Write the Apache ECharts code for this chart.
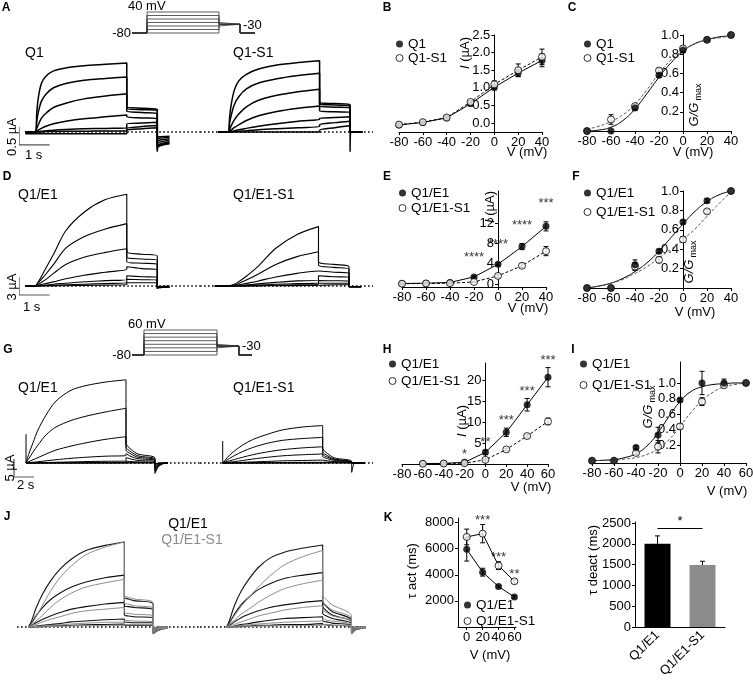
<!DOCTYPE html>
<html>
<head>
<meta charset="utf-8">
<script src="https://cdn.jsdelivr.net/npm/echarts@6.0.0/dist/echarts.min.js"></script>
<style>
  html, body { margin: 0; padding: 0; background: #fff; }
  #fig { width: 753px; height: 681px; }
</style>
</head>
<body>
<div id="fig"></div>
<script>
// ---------- values ----------
// voltage protocols (mV)
const holdV = -80;
const tailV = -30;
const protoALevels = [-80, -60, -40, -20, 0, 20, 40];
const protoGLevels = [-80, -60, -40, -20, 0, 20, 40, 60];
const protoATimes = [0.625, 3, 0.875, 0.625];   // hold, step, tail, end (s)
const protoGTimes = [1.64, 10, 3, 1.78];

// current traces, short protocol (A, D): time points in s
const stepT3 = [0, 0.05, 0.1, 0.2, 0.35, 0.6, 1.0, 1.6, 2.3, 3.0];
const tailT3 = [0, 0.5, 1.0];
const postT3 = [0, 0.02, 0.4];

// A  Q1  (µA), rows = +40 ... -80 mV
const aQ1Step = [
  [0, 0.55, 0.95, 1.35, 1.55, 1.7, 1.78, 1.84, 1.88, 1.92],
  [0, 0.3, 0.55, 0.85, 1.05, 1.23, 1.35, 1.44, 1.49, 1.53],
  [0, 0.1, 0.2, 0.38, 0.52, 0.68, 0.8, 0.92, 1.0, 1.06],
  [0, 0.02, 0.05, 0.1, 0.16, 0.23, 0.3, 0.37, 0.42, 0.47],
  [0, 0, 0.01, 0.02, 0.03, 0.05, 0.07, 0.09, 0.1, 0.11],
  [0, 0, 0, 0, 0.01, 0.01, 0.02, 0.02, 0.03, 0.03],
  [-0.05, -0.05, -0.05, -0.05, -0.05, -0.05, -0.05, -0.05, -0.05, -0.05]
];
const aQ1Tail = [[0.7, 0.66, 0.63], [0.66, 0.62, 0.6], [0.58, 0.54, 0.5], [0.42, 0.39, 0.37],
  [0.22, 0.25, 0.27], [0.1, 0.15, 0.18], [0.04, 0.09, 0.12]];
const aQ1Post = [[-0.55, -0.42, -0.33], [-0.5, -0.4, -0.3], [-0.45, -0.36, -0.27], [-0.38, -0.3, -0.23],
  [-0.3, -0.24, -0.19], [-0.22, -0.18, -0.15], [-0.17, -0.14, -0.12]];
// A  Q1-S1
const aS1Step = [
  [0, 0.4, 0.75, 1.15, 1.42, 1.6, 1.75, 1.86, 1.93, 1.98],
  [0, 0.25, 0.45, 0.75, 0.98, 1.2, 1.36, 1.48, 1.57, 1.63],
  [0, 0.08, 0.17, 0.33, 0.5, 0.7, 0.88, 1.02, 1.12, 1.19],
  [0, 0.02, 0.05, 0.12, 0.2, 0.32, 0.45, 0.57, 0.66, 0.72],
  [0, 0, 0.01, 0.03, 0.06, 0.1, 0.16, 0.23, 0.3, 0.35],
  [0, 0, 0, 0.01, 0.02, 0.03, 0.06, 0.09, 0.12, 0.15],
  [0, 0, 0, 0, 0, 0, 0, 0, 0, 0]
];
const aS1Tail = [[0.82, 0.79, 0.76], [0.78, 0.75, 0.72], [0.72, 0.69, 0.67], [0.58, 0.56, 0.55],
  [0.38, 0.4, 0.42], [0.2, 0.26, 0.3], [0.05, 0.12, 0.17]];
const aS1Post = [[-0.55, 0, 0], [0, 0, 0], [0, 0, 0], [0, 0, 0], [0, 0, 0], [0, 0, 0], [0, 0, 0]];

// D  Q1/E1 (µA)
const dQ1Step = [
  [0, 0.3, 0.7, 1.6, 3.0, 5.3, 9.2, 12.3, 14.4, 15.3],
  [0, 0.2, 0.5, 1.1, 2.0, 3.6, 6.3, 8.2, 9.5, 10.4],
  [0, 0.1, 0.25, 0.6, 1.1, 2.1, 3.6, 4.8, 5.6, 6.2],
  [0, 0.05, 0.1, 0.25, 0.4, 0.7, 1.2, 1.8, 2.3, 2.8],
  [0, 0, 0.05, 0.1, 0.15, 0.3, 0.45, 0.7, 0.9, 1.1],
  [0, 0, 0, 0.05, 0.08, 0.12, 0.2, 0.3, 0.42, 0.55],
  [0, 0, 0, 0, 0, 0.02, 0.05, 0.1, 0.15, 0.2]
];
const dQ1Tail = [[5.7, 5.3, 5.0], [4.8, 4.5, 4.3], [4.0, 3.8, 3.6], [3.2, 2.9, 2.7],
  [1.7, 1.55, 1.45], [1.1, 1.05, 1.0], [0.55, 0.55, 0.55]];
const dQ1Post = [[-0.5, -0.3, -0.2], [-0.45, -0.3, -0.2], [-0.4, -0.25, -0.15], [-0.3, -0.2, -0.1],
  [-0.2, -0.15, -0.1], [-0.15, -0.1, -0.05], [-0.1, -0.05, 0]];
// D  Q1/E1-S1
const dS1Step = [
  [0, 0, 0.05, 0.2, 0.6, 1.5, 3.2, 6.3, 8.6, 9.9],
  [0, 0, 0.03, 0.12, 0.35, 0.9, 1.9, 3.6, 4.9, 5.7],
  [0, 0, 0.01, 0.05, 0.15, 0.4, 0.8, 1.5, 2.1, 2.5],
  [0, 0, 0, 0.02, 0.06, 0.15, 0.35, 0.6, 0.85, 1.0],
  [0, 0, 0, 0, 0.02, 0.06, 0.15, 0.28, 0.4, 0.5],
  [0, 0, 0, 0, 0, 0.02, 0.06, 0.12, 0.2, 0.25],
  [0, 0, 0, 0, 0, 0, 0.02, 0.04, 0.07, 0.1]
];
const dS1Tail = [[4.05, 3.6, 3.2], [3.5, 3.1, 2.8], [2.5, 2.3, 2.1], [1.7, 1.55, 1.45],
  [0.9, 0.87, 0.85], [0.45, 0.45, 0.45], [0.2, 0.2, 0.2]];
const dS1Post = [[-0.2, -0.1, -0.1], [-0.1, -0.1, -0.1], [-0.1, -0.1, -0.1], [-0.1, -0.1, -0.1],
  [-0.1, -0.1, -0.1], [-0.1, -0.1, -0.1], [-0.1, -0.1, -0.1]];

// G  long protocol (µA), rows = +60 ... -80 mV
const gStepT = [0, 0.3, 0.7, 1.2, 2, 3, 4.5, 6, 8, 10];
const gTailT = [0, 0.5, 1.2, 2.9];
const gPostT = [0, 0.3, 0.7, 1.3];
const gSpike = [8, 6.1];
const gQ1Step = [
  [0, 2.7, 5.6, 9.2, 13.3, 17.2, 20.2, 21.5, 22.5, 23.1],
  [0, 1.3, 3.0, 5.0, 7.8, 10.0, 11.8, 13.0, 14.2, 15.2],
  [0, 0.4, 0.9, 1.5, 2.5, 3.6, 4.7, 5.6, 6.6, 7.3],
  [0, 0.1, 0.2, 0.35, 0.6, 0.9, 1.3, 1.6, 1.9, 2.1],
  [0, 0, 0.05, 0.08, 0.12, 0.2, 0.3, 0.4, 0.48, 0.55],
  [0, 0, 0, 0.02, 0.04, 0.06, 0.08, 0.1, 0.12, 0.15],
  [0, 0, 0, 0, 0, 0, 0, 0, 0.02, 0.05],
  [0, 0, 0, 0, 0, 0, 0, 0, 0, 0]
];
const gQ1Tail = [[5.5, 3.8, 2.5, 1.3], [4.5, 3.1, 2.0, 1.0], [3.6, 2.5, 1.6, 0.8], [2.6, 1.8, 1.2, 0.6],
  [1.5, 1.1, 0.7, 0.4], [0.5, 0.4, 0.3, 0.2], [0.1, 0.1, 0.1, 0.1], [0, 0, 0, 0]];
const gQ1Post = [[-2.9, -1.2, -0.3, 0], [-2.4, -1.0, -0.25, 0], [-1.9, -0.8, -0.2, 0], [-1.4, -0.6, -0.15, 0],
  [-0.9, -0.4, -0.1, 0], [-0.5, -0.2, -0.05, 0], [-0.3, -0.1, 0, 0], [-0.2, -0.1, 0, 0]];
const gS1Step = [
  [0, 1.0, 2.2, 3.4, 5.0, 6.5, 8.0, 9.2, 10.0, 10.4],
  [0, 0.6, 1.3, 2.1, 3.2, 4.3, 5.5, 6.3, 6.8, 7.1],
  [0, 0.3, 0.6, 1.0, 1.6, 2.3, 3.1, 3.7, 4.2, 4.5],
  [0, 0.1, 0.25, 0.4, 0.7, 1.1, 1.6, 2.0, 2.3, 2.5],
  [0, 0, 0.05, 0.1, 0.2, 0.3, 0.45, 0.6, 0.7, 0.8],
  [0, 0, 0, 0, 0.03, 0.06, 0.1, 0.14, 0.18, 0.2],
  [0, 0, 0, 0, 0, 0, 0, 0, 0.02, 0.05],
  [0, 0, 0, 0, 0, 0, 0, 0, 0, 0]
];
const gS1Tail = [[4.1, 2.6, 1.4, 0.4], [3.2, 2.0, 1.1, 0.35], [2.5, 1.6, 0.9, 0.3], [1.8, 1.2, 0.7, 0.25],
  [0.8, 0.6, 0.4, 0.2], [0.3, 0.25, 0.2, 0.1], [0.1, 0.1, 0.1, 0.05], [0, 0, 0, 0]];
const gS1Post = [[-2.6, 0, 0, 0], [0, 0, 0, 0], [0, 0, 0, 0], [0, 0, 0, 0],
  [0, 0, 0, 0], [0, 0, 0, 0], [0, 0, 0, 0], [0, 0, 0, 0]];

// J  normalised overlays (black Q1/E1, grey Q1/E1-S1)
const jStepT = [0, 0.3, 0.8, 1.5, 2.3, 3.3, 4.5, 6, 8, 10];
const jTailT = [0, 0.4, 1.0, 3.0];
const jPostT = [0, 0.5, 1.5];
const jLeftBlackStep = [
  [0, 0.06, 0.22, 0.39, 0.54, 0.68, 0.8, 0.9, 0.96, 1.0],
  [0, 0.04, 0.13, 0.23, 0.32, 0.4, 0.47, 0.53, 0.58, 0.61],
  [0, 0.02, 0.05, 0.09, 0.13, 0.17, 0.21, 0.24, 0.27, 0.29],
  [0, 0, 0.01, 0.02, 0.03, 0.04, 0.06, 0.07, 0.085, 0.094],
  [0, 0, 0, 0.005, 0.01, 0.015, 0.02, 0.025, 0.03, 0.035]
];
const jLeftGreyStep = [
  [0, 0.03, 0.12, 0.26, 0.42, 0.58, 0.72, 0.85, 0.94, 1.0],
  [0, 0.02, 0.07, 0.14, 0.23, 0.32, 0.4, 0.47, 0.52, 0.56],
  [0, 0.01, 0.03, 0.06, 0.09, 0.12, 0.16, 0.19, 0.21, 0.23],
  [0, 0, 0.005, 0.01, 0.02, 0.025, 0.035, 0.045, 0.055, 0.06],
  [0, 0, 0, 0, 0.005, 0.01, 0.012, 0.015, 0.018, 0.02]
];
const jLeftBlackTail = [[0.35, 0.33, 0.31, 0.27], [0.25, 0.24, 0.23, 0.2], [0.14, 0.13, 0.12, 0.11],
  [0.06, 0.055, 0.05, 0.05], [0.02, 0.02, 0.02, 0.02]];
const jLeftGreyTail = [[0.37, 0.35, 0.33, 0.28], [0.28, 0.27, 0.25, 0.22], [0.17, 0.16, 0.15, 0.13],
  [0.08, 0.075, 0.07, 0.06], [0.03, 0.03, 0.03, 0.03]];
const jLeftPost = [[-0.08, -0.04, -0.01], [-0.07, -0.03, -0.01], [-0.05, -0.02, 0], [-0.03, -0.01, 0], [-0.02, 0, 0]];
const jRightBlackStep = [
  [0, 0.08, 0.25, 0.42, 0.56, 0.7, 0.81, 0.88, 0.93, 0.965],
  [0, 0.05, 0.15, 0.26, 0.35, 0.44, 0.51, 0.57, 0.61, 0.64],
  [0, 0.02, 0.06, 0.11, 0.15, 0.19, 0.23, 0.26, 0.29, 0.31],
  [0, 0, 0.01, 0.03, 0.04, 0.06, 0.08, 0.1, 0.11, 0.12],
  [0, 0, 0, 0.01, 0.01, 0.02, 0.02, 0.03, 0.03, 0.04]
];
const jRightGreyStep = [
  [0, 0.04, 0.13, 0.24, 0.35, 0.47, 0.6, 0.73, 0.83, 0.9],
  [0, 0.03, 0.08, 0.15, 0.21, 0.29, 0.37, 0.45, 0.51, 0.55],
  [0, 0.01, 0.03, 0.06, 0.09, 0.13, 0.16, 0.2, 0.23, 0.25],
  [0, 0, 0.01, 0.015, 0.025, 0.035, 0.045, 0.055, 0.065, 0.075],
  [0, 0, 0, 0, 0.005, 0.01, 0.012, 0.015, 0.018, 0.02]
];
const jRightBlackTail = [[0.3, 0.24, 0.18, 0.08], [0.24, 0.19, 0.14, 0.06], [0.16, 0.13, 0.1, 0.04],
  [0.07, 0.06, 0.045, 0.02], [0.03, 0.025, 0.02, 0.01]];
const jRightGreyTail = [[0.38, 0.32, 0.26, 0.13], [0.3, 0.25, 0.2, 0.1], [0.2, 0.17, 0.13, 0.07],
  [0.1, 0.08, 0.07, 0.03], [0.03, 0.03, 0.02, 0.01]];
const jRightPost = [[-0.08, -0.03, -0.01], [-0.06, -0.02, 0], [-0.04, -0.01, 0], [-0.02, 0, 0], [-0.01, 0, 0]];

// I-V and G-V summaries
const ivV = [-80, -60, -40, -20, 0, 20, 40];
const fitV40 = [-80, -70, -60, -50, -40, -30, -20, -10, 0, 10, 20, 30, 40];
const bQ1 = [-0.05, 0.02, 0.15, 0.55, 1.02, 1.42, 1.78];
const bQ1Sem = [0.01, 0.01, 0.02, 0.04, 0.08, 0.1, 0.18];
const bS1 = [-0.04, 0.03, 0.16, 0.6, 1.1, 1.5, 1.88];
const bS1Sem = [0.01, 0.01, 0.02, 0.04, 0.1, 0.18, 0.22];
const cQ1 = [0, 0, 0.24, 0.58, 0.84, 0.95, 1.0];
const cQ1Sem = [0, 0, 0.02, 0.02, 0.02, 0.01, 0];
const cS1 = [0, 0.12, 0.26, 0.63, 0.86, 0.95, 1.0];
const cS1Sem = [0, 0.05, 0.02, 0.02, 0.02, 0.01, 0];
const cQ1Fit = [0, 0.01, 0.04, 0.11, 0.23, 0.39, 0.56, 0.71, 0.83, 0.91, 0.95, 0.98, 0.99];
const cS1Fit = [0.02, 0.05, 0.1, 0.17, 0.28, 0.43, 0.6, 0.74, 0.84, 0.91, 0.95, 0.97, 0.99];
const eQ1 = [0.1, 0.15, 0.3, 1.4, 3.9, 7.4, 11.4];
const eQ1Sem = [0.05, 0.05, 0.1, 0.2, 0.3, 0.6, 0.9];
const eS1 = [0.05, 0.1, 0.15, 0.4, 1.6, 3.6, 6.5];
const eS1Sem = [0.05, 0.05, 0.05, 0.1, 0.3, 0.4, 0.9];
const eStars = ['', '', '', '****', '****', '****', '***'];
const fQ1 = [0, 0, 0.24, 0.38, 0.68, 0.9, 1.0];
const fQ1Sem = [0, 0, 0.05, 0.02, 0.02, 0.02, 0];
const fS1 = [0, 0, 0.22, 0.29, 0.5, 0.79, 1.0];
const fS1Sem = [0, 0, 0.04, 0.03, 0.03, 0.02, 0];
const fQ1Fit = [0, 0.02, 0.05, 0.1, 0.17, 0.26, 0.38, 0.52, 0.66, 0.79, 0.89, 0.96, 1.0];
const fS1Fit = [0, 0.02, 0.05, 0.09, 0.15, 0.22, 0.31, 0.4, 0.5, 0.61, 0.74, 0.87, 0.99];
const hV = [-60, -40, -20, 0, 20, 40, 60];
const hQ1 = [0.1, 0.15, 0.4, 2.8, 7.6, 14.2, 20.8];
const hQ1Sem = [0.05, 0.05, 0.1, 0.5, 1.0, 1.5, 2.3];
const hS1 = [0.05, 0.1, 0.2, 1.0, 3.5, 6.7, 10.2];
const hS1Sem = [0.05, 0.05, 0.05, 0.2, 0.3, 0.4, 0.8];
const hStars = ['', '', '*', '**', '***', '***', '***'];
const iV = [-80, -60, -40, -20, 0, 20, 40, 60];
const fitV60 = [-80, -70, -60, -50, -40, -30, -20, -10, 0, 10, 20, 30, 40, 50, 60];
const iQ1 = [0, 0, 0.17, 0.33, 0.78, 1.0, 1.0, 1.0];
const iQ1Sem = [0, 0, 0.02, 0.1, 0.02, 0.15, 0.05, 0];
const iS1 = [0, 0, 0.1, 0.18, 0.44, 0.76, 0.97, 1.0];
const iS1Sem = [0, 0, 0.02, 0.08, 0.03, 0.05, 0.02, 0];
const iQ1Fit = [0, 0.005, 0.015, 0.04, 0.09, 0.19, 0.36, 0.57, 0.76, 0.89, 0.95, 0.98, 0.99, 1.0, 1.0];
const iS1Fit = [0, 0.003, 0.008, 0.02, 0.04, 0.08, 0.15, 0.27, 0.44, 0.62, 0.77, 0.88, 0.95, 0.98, 1.0];
const kV = [0, 20, 40, 60];
const kQ1 = [5950, 4200, 3100, 2300];
const kQ1Sem = [900, 300, 100, 100];
const kS1 = [6900, 7150, 4700, 3500];
const kS1Sem = [600, 700, 300, 150];
const kStars = ['', '***', '***', '**'];
const deactCats = ['Q1/E1', 'Q1/E1-S1'];
const deactMean = [2000, 1490];
const deactSem = [190, 90];
const deactStar = '*';

// tick labels
const vTicks40 = [-80, -60, -40, -20, 0, 20, 40];
const vTicks60 = [-80, -60, -40, -20, 0, 20, 40, 60];
const gTicks = [0.2, 0.4, 0.6, 0.8, 1.0];

// ---------- building blocks ----------
const FONT = '"Liberation Sans", Arial, Helvetica, sans-serif';
const grid = [], xAxis = [], yAxis = [], series = [], legend = [], texts = [];

function addGrid(box, xa, ya) {
  const i = grid.length;
  grid.push(Object.assign({ containLabel: false, outerBoundsMode: 'none' }, box));
  xAxis.push(Object.assign({ gridIndex: i }, xa));
  yAxis.push(Object.assign({ gridIndex: i }, ya));
  return i;
}
const hidden = (min, max) => ({ type: 'value', min, max, show: false });
const fmt1 = v => v.toFixed(1);

function xVal(min, max, ticks) {
  return {
    type: 'value', min, max,
    axisLine: { show: true, onZero: false, lineStyle: { color: '#000', width: 1 } },
    axisTick: { show: true, length: 3, customValues: ticks, lineStyle: { color: '#000' } },
    axisLabel: { customValues: ticks, color: '#000', fontSize: 13, fontFamily: FONT, margin: 4,
      hideOverlap: false, showMinLabel: true, showMaxLabel: true },
    splitLine: { show: false }
  };
}
// shift: pixels from the grid's left edge to where the y axis sits (x = 0 for the I-V plots)
function yVal(min, max, ticks, fmt, shift) {
  return {
    type: 'value', min, max, position: 'left', offset: -(shift || 0),
    axisLine: { show: true, onZero: false, lineStyle: { color: '#000', width: 1 } },
    axisTick: { show: true, length: 3, customValues: ticks, lineStyle: { color: '#000' } },
    axisLabel: { customValues: ticks, formatter: fmt, color: '#000', fontSize: 13, fontFamily: FONT, margin: 4,
      hideOverlap: false, showMinLabel: true, showMaxLabel: true },
    splitLine: { show: false }
  };
}
const zeroShift = (width, min, max) => width * (0 - min) / (max - min);

function addLine(gi, xs, ys, o) {
  o = o || {};
  series.push({
    type: 'line', xAxisIndex: gi, yAxisIndex: gi, silent: true, symbol: 'none', showSymbol: false,
    smooth: o.smooth || false, clip: false, z: o.z || 2,
    lineStyle: { color: o.color || '#000', width: o.width || 1, type: o.dashed ? [3, 2] : 'solid' },
    data: xs.map((x, i) => [x, ys[i]])
  });
}

function addPoints(gi, name, xs, ys, open) {
  series.push({
    type: 'scatter', name, xAxisIndex: gi, yAxisIndex: gi, silent: true, z: 5,
    symbol: 'circle', symbolSize: 7,
    itemStyle: open ? { color: '#fff', borderColor: '#000', borderWidth: 1 } : { color: '#000', borderWidth: 0 },
    data: xs.map((x, i) => [x, ys[i]])
  });
}

function addErrors(gi, xs, ys, sems, upOnly) {
  series.push({
    type: 'custom', xAxisIndex: gi, yAxisIndex: gi, silent: true, z: 4,
    encode: { x: 0, y: 1 },
    data: xs.map((x, i) => [x, ys[i], sems[i]]).filter(d => d[2] > 0),
    renderItem: (params, api) => {
      const x = api.value(0), y = api.value(1), e = api.value(2);
      const hi = api.coord([x, y + e]);
      const lo = api.coord([x, upOnly ? y : y - e]);
      const c = 2.5, st = { stroke: '#000', lineWidth: 1 };
      const kids = [
        { type: 'line', shape: { x1: hi[0], y1: hi[1], x2: lo[0], y2: lo[1] }, style: st },
        { type: 'line', shape: { x1: hi[0] - c, y1: hi[1], x2: hi[0] + c, y2: hi[1] }, style: st }
      ];
      if (!upOnly) kids.push({ type: 'line', shape: { x1: lo[0] - c, y1: lo[1], x2: lo[0] + c, y2: lo[1] }, style: st });
      return { type: 'group', children: kids };
    }
  });
}

function addStars(gi, xs, ys, sems, marks, dist) {
  series.push({
    type: 'scatter', xAxisIndex: gi, yAxisIndex: gi, silent: true, z: 6, symbolSize: 0,
    data: xs.map((x, i) => ({ name: marks[i], value: [x, ys[i] + sems[i]] })).filter(d => d.name),
    label: { show: true, position: 'top', distance: dist, formatter: '{b}', color: '#000', fontSize: 13, fontFamily: FONT }
  });
}

function addLegend(left, top, gap, names) {
  legend.push({
    left, top, orient: 'vertical', padding: 0, itemGap: gap, itemWidth: 7, itemHeight: 7, selectedMode: false,
    textStyle: { fontSize: 13.5, fontFamily: FONT, color: '#000', lineHeight: 12 },
    data: [
      { name: names[0], icon: 'circle', itemStyle: { color: '#000', borderWidth: 0 } },
      { name: names[1], icon: 'circle', itemStyle: { color: '#fff', borderColor: '#000', borderWidth: 1 } }
    ]
  });
}

function addText(x, y, text, o) {
  o = o || {};
  texts.push({
    type: 'text', x, y, rotation: o.rot || 0, silent: true, z: 10,
    style: {
      text, fill: o.color || '#000', fontSize: o.size || 13, fontFamily: FONT,
      fontWeight: o.bold ? 'bold' : 'normal', align: o.align || 'left', verticalAlign: 'middle', rich: o.rich
    }
  });
}
const UP = Math.PI / 2;
const richI = { i: { fontStyle: 'italic', fontSize: 13, fontFamily: FONT } };
const richG = {
  g: { fontStyle: 'italic', fontSize: 13, fontFamily: FONT, lineHeight: 18 },
  s: { fontSize: 9, fontFamily: FONT, verticalAlign: 'bottom', padding: [0, 0, 0, 2] }
};
const gName = '{g|G/G}{s|max}';

// one smooth line per sweep: (hold) + activation + tail + return to holding
function addTraces(gi, stepT, tailT, postT, hold, stepRows, tailRows, postRows, color, width) {
  const stepEnd = stepT[stepT.length - 1];
  const tailEnd = stepEnd + tailT[tailT.length - 1];
  stepRows.forEach((row, k) => {
    const pts = stepT.map((t, j) => [t, row[j]]);
    if (hold > 0) pts.unshift([-hold, row[0]]);
    tailRows[k].forEach((v, j) => pts.push([stepEnd + tailT[j], v]));
    postRows[k].forEach((v, j) => pts.push([tailEnd + postT[j], v]));
    series.push({
      type: 'line', xAxisIndex: gi, yAxisIndex: gi, silent: true, symbol: 'none', showSymbol: false,
      smooth: 0.3, clip: false, z: 2, lineStyle: { color, width }, data: pts
    });
  });
}
function addBaseline(gi, x0, x1) {
  series.push({
    type: 'line', xAxisIndex: gi, yAxisIndex: gi, silent: true, symbol: 'none', showSymbol: false, z: 1,
    lineStyle: { color: '#000', width: 1.3, type: [1.6, 2.4] }, data: [[x0, 0], [x1, 0]]
  });
}
function addScaleBar(gi, t0, i0, dt, di) {
  series.push({
    type: 'line', xAxisIndex: gi, yAxisIndex: gi, silent: true, symbol: 'none', showSymbol: false, clip: false,
    lineStyle: { color: '#555', width: 1.2 }, data: [[t0, i0 + di], [t0, i0], [t0 + dt, i0]]
  });
}
function addProtocol(gi, levels, times) {
  const [h, s, t, e] = times;
  levels.forEach(v => series.push({
    type: 'line', xAxisIndex: gi, yAxisIndex: gi, silent: true, symbol: 'none', showSymbol: false, clip: false,
    lineStyle: { color: '#333', width: 0.8 },
    data: [[-h, holdV], [0, holdV], [0, v], [s, v], [s, tailV], [s + t, tailV], [s + t, holdV], [s + t + e, holdV]]
  }));
}

// ---------- A ----------
const gA1 = addGrid({ left: 20, top: 55, width: 180, height: 100 }, hidden(-0.5, 5.4), hidden(-0.64, 2.14));
const gA2 = addGrid({ left: 200, top: 55, width: 173, height: 100 }, hidden(-0.92, 4.75), hidden(-0.64, 2.14));
const gPA = addGrid({ left: 132, top: 12, width: 123, height: 21 }, hidden(-0.625, 4.5), hidden(-80, 40));
addProtocol(gPA, protoALevels, protoATimes);
addBaseline(gA1, 0, 5.4); addBaseline(gA2, -0.92, 4.75);
addTraces(gA1, stepT3, tailT3, postT3, 0.33, aQ1Step, aQ1Tail, aQ1Post, '#000', 1.5);
addTraces(gA2, stepT3, tailT3, postT3, 0.33, aS1Step, aS1Tail, aS1Post, '#000', 1.5);
addScaleBar(gA1, -0.53, -0.36, 1, 0.5);

// ---------- D ----------
const gD1 = addGrid({ left: 20, top: 190, width: 180, height: 110 }, hidden(-0.5, 5.4), hidden(-2.333, 16));
const gD2 = addGrid({ left: 200, top: 190, width: 173, height: 110 }, hidden(-0.885, 4.787), hidden(-2.333, 16));
addBaseline(gD1, 0, 5.4); addBaseline(gD2, -0.885, 4.787);
addTraces(gD1, stepT3, tailT3, postT3, 0.33, dQ1Step, dQ1Tail, dQ1Post, '#000', 1.1);
addTraces(gD2, stepT3, tailT3, postT3, 0.4, dS1Step, dS1Tail, dS1Post, '#000', 1.1);
addScaleBar(gD1, -0.53, -1.5, 1, 3);

// ---------- G ----------
const gPG = addGrid({ left: 132, top: 330, width: 120, height: 25 }, hidden(-1.64, 14.8), hidden(-80, 60));
addProtocol(gPG, protoGLevels, protoGTimes);
const gG1 = addGrid({ left: 14, top: 375, width: 186, height: 105 }, hidden(-1.2, 17.4), hidden(-4.72, 24.44));
const gG2 = addGrid({ left: 200, top: 375, width: 173, height: 105 }, hidden(-2.27, 15.03), hidden(-4.72, 24.44));
addBaseline(gG1, 0, 17.4); addBaseline(gG2, -2.27, 15.03);
addTraces(gG1, gStepT, gTailT, gPostT, 0, gQ1Step, gQ1Tail, gQ1Post, '#000', 1);
addTraces(gG2, gStepT, gTailT, gPostT, 0, gS1Step, gS1Tail, gS1Post, '#000', 1);
addLine(gG1, [0, 0], [0, gSpike[0]]);
addLine(gG2, [0, 0], [0, gSpike[1]]);
addScaleBar(gG1, -1.2, -3.89, 2, 5);

// ---------- J ----------
const gJ1 = addGrid({ left: 17, top: 530, width: 183, height: 110 }, hidden(-1.18, 17.88), hidden(-0.153, 1.141));
const gJ2 = addGrid({ left: 200, top: 530, width: 165, height: 110 }, hidden(-2.78, 14.41), hidden(-0.153, 1.141));
addBaseline(gJ1, -1.18, 17.88); addBaseline(gJ2, -2.78, 14.41);
addTraces(gJ1, jStepT, jTailT, jPostT, 0, jLeftBlackStep, jLeftBlackTail, jLeftPost, '#111', 1.1);
addTraces(gJ1, jStepT, jTailT, jPostT, 0, jLeftGreyStep, jLeftGreyTail, jLeftPost, '#8c8c8c', 1);
addTraces(gJ2, jStepT, jTailT, jPostT, 0, jRightBlackStep, jRightBlackTail, jRightPost, '#111', 1.1);
addTraces(gJ2, jStepT, jTailT, jPostT, 0, jRightGreyStep, jRightGreyTail, jRightPost, '#8c8c8c', 1);

// ---------- B ----------
const gB = addGrid({ left: 399, top: 35, width: 143, height: 97 }, xVal(-80, 40, vTicks40),
  yVal(-0.25, 2.5, [0, 0.5, 1, 1.5, 2, 2.5], fmt1, zeroShift(143, -80, 40)));
addLine(gB, ivV, bQ1);
addLine(gB, ivV, bS1, { dashed: true });
addErrors(gB, ivV, bQ1, bQ1Sem); addErrors(gB, ivV, bS1, bS1Sem);
addPoints(gB, 'Q1', ivV, bQ1, false); addPoints(gB, 'Q1-S1', ivV, bS1, true);
addLegend(395.5, 37, 0, ['Q1', 'Q1-S1']);

// ---------- C ----------
const gC = addGrid({ left: 587, top: 35, width: 144, height: 96 }, xVal(-80, 40, vTicks40),
  yVal(0, 1, gTicks, fmt1, zeroShift(144, -80, 40)));
addLine(gC, fitV40, cQ1Fit, { smooth: true });
addLine(gC, fitV40, cS1Fit, { smooth: true, dashed: true, color: '#555' });
addErrors(gC, ivV, cQ1, cQ1Sem); addErrors(gC, ivV, cS1, cS1Sem);
addPoints(gC, 'Q1-S1', ivV, cS1, true); addPoints(gC, 'Q1', ivV, cQ1, false);
addLegend(583.5, 37, 0, ['Q1', 'Q1-S1']);

// ---------- E ----------
const gE = addGrid({ left: 402, top: 191, width: 144, height: 96 }, xVal(-80, 40, vTicks40),
  yVal(-0.6, 18.4, [0, 4, 8, 12], String, zeroShift(144, -80, 40)));
addLine(gE, ivV, eQ1);
addLine(gE, ivV, eS1, { dashed: true });
addErrors(gE, ivV, eQ1, eQ1Sem); addErrors(gE, ivV, eS1, eS1Sem);
addPoints(gE, 'Q1/E1', ivV, eQ1, false); addPoints(gE, 'Q1/E1-S1', ivV, eS1, true);
addStars(gE, ivV, eQ1, eQ1Sem, eStars, 12);
addLegend(398.5, 186, 1, ['Q1/E1', 'Q1/E1-S1']);

// ---------- F ----------
const gF = addGrid({ left: 587, top: 191, width: 144, height: 97 }, xVal(-80, 40, vTicks40),
  yVal(0, 1, gTicks, fmt1, zeroShift(144, -80, 40)));
addLine(gF, fitV40, fQ1Fit, { smooth: true });
addLine(gF, fitV40, fS1Fit, { smooth: true, dashed: true, color: '#555' });
addErrors(gF, ivV, fQ1, fQ1Sem); addErrors(gF, ivV, fS1, fS1Sem);
addPoints(gF, 'Q1/E1-S1', ivV, fS1, true); addPoints(gF, 'Q1/E1', ivV, fQ1, false);
addLegend(583.5, 186, 5, ['Q1/E1', 'Q1/E1-S1']);

// ---------- H ----------
const gH = addGrid({ left: 402, top: 363, width: 146, height: 101 }, xVal(-80, 60, vTicks60),
  yVal(0, 24.2, [5, 10, 15, 20], String, zeroShift(146, -80, 60)));
addLine(gH, hV, hQ1);
addLine(gH, hV, hS1, { dashed: true });
addErrors(gH, hV, hQ1, hQ1Sem); addErrors(gH, hV, hS1, hS1Sem);
addPoints(gH, 'Q1/E1', hV, hQ1, false); addPoints(gH, 'Q1/E1-S1', hV, hS1, true);
addStars(gH, hV, hQ1, hQ1Sem, hStars, 1);
addLegend(388.5, 357, 3, ['Q1/E1', 'Q1/E1-S1']);

// ---------- I ----------
const gI = addGrid({ left: 592, top: 362, width: 154, height: 101 }, xVal(-80, 60, vTicks60),
  yVal(-0.03, 1.27, gTicks, fmt1, zeroShift(154, -80, 60)));
addLine(gI, fitV60, iQ1Fit, { smooth: true });
addLine(gI, fitV60, iS1Fit, { smooth: true, dashed: true, color: '#555' });
addErrors(gI, iV, iQ1, iQ1Sem); addErrors(gI, iV, iS1, iS1Sem);
addPoints(gI, 'Q1/E1-S1', iV, iS1, true); addPoints(gI, 'Q1/E1', iV, iQ1, false);
addLegend(579.5, 357, 7, ['Q1/E1', 'Q1/E1-S1']);

// ---------- K (tau act) ----------
const gK1 = addGrid({ left: 458, top: 518, width: 58, height: 109 }, xVal(-11, 62, [0, 20, 40, 60]),
  yVal(0, 8350, [2000, 4000, 6000, 8000], String, 0));
addLine(gK1, kV, kQ1);
addLine(gK1, kV, kS1);
addErrors(gK1, kV, kQ1, kQ1Sem); addErrors(gK1, kV, kS1, kS1Sem);
addPoints(gK1, 'Q1/E1', kV, kQ1, false); addPoints(gK1, 'Q1/E1-S1', kV, kS1, true);
addStars(gK1, kV, kS1, kS1Sem, kStars, -2);
addLegend(463.5, 598, 2, ['Q1/E1', 'Q1/E1-S1']);

// ---------- K (tau deact) ----------
const barColors = ['#000', '#8c8c8c'];
const gK2 = addGrid({ left: 635, top: 522, width: 90, height: 105 }, {
  type: 'category', data: deactCats,
  axisLine: { show: true, lineStyle: { color: '#000' } }, axisTick: { show: false },
  axisLabel: { rotate: 45, color: '#000', fontSize: 13, fontFamily: FONT, margin: 6, interval: 0 }
}, yVal(0, 2524, [0, 500, 1000, 1500, 2000, 2500], String, 0));
series.push({
  type: 'bar', xAxisIndex: gK2, yAxisIndex: gK2, silent: true, barWidth: 26, z: 2,
  data: deactMean.map((v, i) => ({ value: v, itemStyle: { color: barColors[i] } })),
  markLine: {
    silent: true, symbol: 'none', lineStyle: { color: '#000', width: 1, type: 'solid' },
    label: { show: true, position: 'middle', formatter: deactStar, color: '#000', fontSize: 13, fontFamily: FONT, distance: 0 },
    data: [[{ coord: [0, 2380] }, { coord: [1, 2380] }]]
  }
});
addErrors(gK2, [0, 1], deactMean, deactSem, true);

// ---------- labels ----------
[['A', 6, 8], ['B', 387, 8], ['C', 572, 8], ['D', 7, 177], ['E', 387, 177], ['F', 576, 177],
 ['G', 8, 350], ['H', 387, 350], ['I', 573, 350], ['J', 7, 517], ['K', 388, 518]]
  .forEach(([t, x, y]) => addText(x, y, t, { bold: true, align: 'center', size: 12 }));

addText(25, 53, 'Q1', { size: 14 }); addText(233, 53, 'Q1-S1', { size: 14 });
addText(18, 195, 'Q1/E1', { size: 14 }); addText(233, 195, 'Q1/E1-S1', { size: 14 });
addText(18, 388, 'Q1/E1', { size: 14 }); addText(233, 388, 'Q1/E1-S1', { size: 14 });
addText(188, 524, 'Q1/E1', { size: 14, align: 'center' });
addText(192, 540, 'Q1/E1-S1', { size: 14, align: 'center', color: '#8c8c8c' });

addText(128, 6, '40 mV'); addText(131, 33, '-80', { align: 'right' }); addText(243, 25, '-30');
addText(128, 324, '60 mV'); addText(131, 355, '-80', { align: 'right' }); addText(242, 346, '-30');

addText(12, 137, '0.5 µA', { rot: UP, align: 'center' }); addText(25, 155, '1 s');
addText(12, 287, '3 µA', { rot: UP, align: 'center' }); addText(23, 307, '1 s');
addText(10, 468, '5 µA', { rot: UP, align: 'center' }); addText(17, 485, '2 s');

addText(465, 53, '{i|I} (µA)', { rot: UP, align: 'center', rich: richI });
addText(490, 207, '{i|I} (µA)', { rot: UP, align: 'center', rich: richI });
addText(462, 421, '{i|I} (µA)', { rot: UP, align: 'center', rich: richI });
addText(694, 105, gName, { rot: UP, align: 'center', rich: richG });
addText(689, 262, gName, { rot: UP, align: 'center', rich: richG });
addText(648, 407, gName, { rot: UP, align: 'center', rich: richG });
addText(412, 571, 'τ act (ms)', { rot: UP, align: 'center' });
addText(593, 560, 'τ deact (ms)', { rot: UP, align: 'center' });
[[527, 152], [693, 152], [528, 308], [695, 312], [531, 487], [727, 491], [490, 655]]
  .forEach(([x, y]) => addText(x, y, 'V (mV)', { align: 'center' }));

const chart = echarts.init(document.getElementById('fig'), null, { renderer: 'canvas' });
chart.setOption({
  animation: false, backgroundColor: '#fff',
  grid, xAxis, yAxis, series, legend,
  graphic: { elements: texts }
});
</script>
</body>
</html>
